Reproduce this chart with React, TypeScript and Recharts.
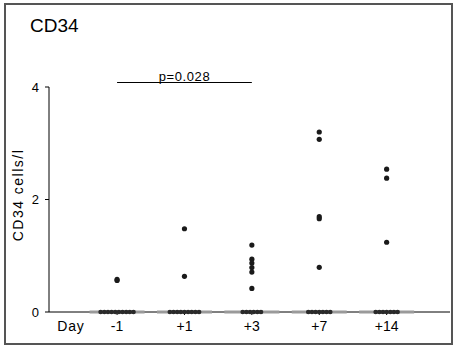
import { ScatterChart, Scatter, XAxis, YAxis, ReferenceLine, Label } from 'recharts';

// categories and values
const days = ['-1', '+1', '+3', '+7', '+14'];
const positiveValues: number[][] = [
  [0.56, 0.58],
  [1.48, 0.635],
  [1.19, 0.94, 0.87, 0.79, 0.71, 0.42],
  [3.2, 3.07, 1.695, 1.66, 0.795],
  [2.54, 2.38, 1.24],
];
const zeroCounts = [10, 9, 6, 7, 7];
const medians = [0, 0, 0, 0, 0];
const yTicks = [0, 2, 4];
const pText = 'p=0.028';
const pFrom = 0;
const pTo = 2;

const SPREAD = 0.054; // horizontal spacing of tied zero values, in category units
const FONT = '"Liberation Sans", Arial, sans-serif';

const pointData = positiveValues.flatMap((vals, i) => vals.map((v) => ({ x: i, y: v })));
const zeroData = zeroCounts.flatMap((n, i) =>
  Array.from({ length: n }, (_, j) => ({ x: i + (j - (n - 1) / 2) * SPREAD, y: 0 }))
);
const medianData = medians.map((m, i) => ({ x: i, y: m }));

const Dot = (props: any) => <circle cx={props.cx} cy={props.cy} r={2.6} fill="#1a1a1a" />;
const ZeroDot = (props: any) => <ellipse cx={props.cx} cy={props.cy} rx={2.4} ry={2.2} fill="#2a2a2a" />;
const MedianBar = (props: any) => (
  <rect x={props.cx - 27.5} y={props.cy - 1.5} width={55} height={3} fill="#9a9a9a" />
);

export default function App() {
  return (
    <div style={{ position: 'absolute', left: 0, top: 0, width: 453, height: 347, background: '#fff', fontFamily: FONT }}>
      <div
        style={{
          position: 'absolute', left: 4, top: 3, width: 449, height: 342,
          border: '2px solid #555', boxSizing: 'border-box',
        }}
      />
      <div style={{ position: 'absolute', left: 30, top: 16, fontSize: 19, lineHeight: '19px', color: '#000' }}>
        CD34
      </div>
      <ScatterChart width={453} height={347} margin={{ top: 87, right: 3, bottom: 5, left: 0 }}>
        <XAxis
          type="number"
          dataKey="x"
          domain={[-1.01, 4.94]}
          ticks={[0, 1, 2, 3, 4]}
          tickFormatter={(v) => days[Math.round(v)]}
          height={30}
          stroke="#000"
          tickSize={3}
          tickMargin={6}
          tick={{ fill: '#000', fontSize: 14, fontFamily: FONT }}
          allowDataOverflow
        >
          <Label
            content={(p: any) => (
              <text x={p.viewBox.x + 22} y={p.viewBox.y + 19} textAnchor="middle" fontSize={14} letterSpacing={0.8} fontFamily={FONT} fill="#000">
                Day
              </text>
            )}
          />
        </XAxis>
        <YAxis
          type="number"
          dataKey="y"
          domain={[0, 4]}
          ticks={yTicks}
          width={49}
          stroke="#000"
          tickSize={4}
          tickMargin={6}
          tick={{ fill: '#000', fontSize: 13, fontFamily: FONT }}
        >
          <Label
            content={() => (
              <text
                x={23}
                y={195}
                transform="rotate(-90 23 195)"
                textAnchor="middle"
                fontSize={14}
                letterSpacing={1.5}
                fontFamily={FONT}
                fill="#000"
              >
                CD34 cells/l
              </text>
            )}
          />
        </YAxis>
        <Scatter data={medianData} shape={MedianBar} isAnimationActive={false} />
        <Scatter data={zeroData} shape={ZeroDot} isAnimationActive={false} />
        <Scatter data={pointData} shape={Dot} isAnimationActive={false} />
        <ReferenceLine
          segment={[{ x: pFrom, y: 4.08 }, { x: pTo, y: 4.08 }]}
          ifOverflow="visible"
          stroke="#000"
          strokeWidth={1}
          label={{ value: pText, position: 'top', offset: 2, fontSize: 13, letterSpacing: 0.6, fill: '#000', fontFamily: FONT }}
        />
      </ScatterChart>
    </div>
  );
}
